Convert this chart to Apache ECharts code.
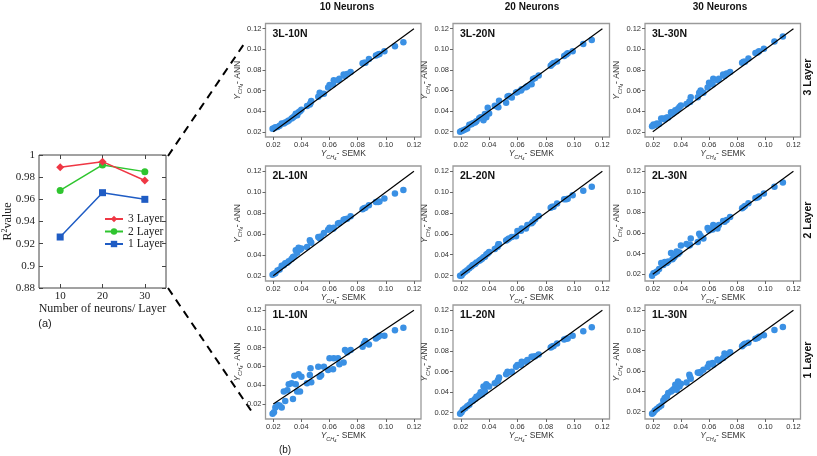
<!DOCTYPE html>
<html><head><meta charset="utf-8">
<script src="https://cdn.jsdelivr.net/npm/echarts@6/dist/echarts.min.js"></script>
<style>html,body{margin:0;padding:0;background:#fff}#c{width:817px;height:456px}</style>
</head><body><div id="c"></div>
<script>
// ---------- data: panel (a) ----------
const neurons = [10, 20, 30];
const r2Layer3 = [0.989, 0.994, 0.977];
const r2Layer2 = [0.968, 0.991, 0.985];
const r2Layer1 = [0.926, 0.966, 0.960];
const layerNames = ['3 Layer', '2 Layer', '1 Layer'];

// ---------- data: panel (b) ----------
const semk = [0.0195,0.0205,0.0215,0.023,0.0245,0.026,0.0275,0.0285,0.030,0.031,0.033,0.034,0.035,0.036,0.037,0.038,0.039,0.040,0.044,0.046,0.0465,0.047,0.052,0.053,0.054,0.056,0.059,0.060,0.0625,0.063,0.066,0.067,0.070,0.071,0.0725,0.075,0.0835,0.0845,0.0855,0.088,0.093,0.0945,0.0955,0.099,0.1065,0.1125];
const ann3L10N = [0.023,0.0235,0.0245,0.0248,0.026,0.028,0.028,0.029,0.030,0.031,0.033,0.034,0.035,0.0375,0.036,0.039,0.040,0.0415,0.045,0.0465,0.048,0.050,0.054,0.058,0.0565,0.057,0.063,0.0655,0.066,0.070,0.070,0.0715,0.0755,0.074,0.076,0.078,0.0865,0.087,0.087,0.0905,0.094,0.095,0.0955,0.098,0.103,0.1068];
const ann3L20N = [0.0197,0.0205,0.021,0.022,0.023,0.0265,0.027,0.028,0.0287,0.030,0.033,0.034,0.0335,0.031,0.037,0.034,0.043,0.0375,0.045,0.044,0.0435,0.050,0.048,0.054,0.0545,0.053,0.058,0.0585,0.060,0.061,0.063,0.064,0.066,0.071,0.072,0.0745,0.084,0.0855,0.0865,0.088,0.0935,0.095,0.096,0.098,0.105,0.109];
const ann3L30N = [0.0255,0.027,0.0265,0.028,0.0275,0.033,0.033,0.032,0.034,0.034,0.039,0.0375,0.039,0.041,0.0405,0.0425,0.044,0.0455,0.047,0.0495,0.049,0.0535,0.0535,0.058,0.060,0.058,0.063,0.0675,0.066,0.0715,0.070,0.0715,0.0755,0.074,0.0765,0.078,0.087,0.088,0.088,0.091,0.0965,0.097,0.098,0.1005,0.1075,0.1125];
const ann2L10N = [0.021,0.022,0.0225,0.025,0.026,0.0295,0.030,0.032,0.0325,0.0338,0.036,0.038,0.0385,0.0444,0.042,0.0467,0.045,0.046,0.0475,0.054,0.0525,0.0515,0.057,0.056,0.0575,0.061,0.064,0.066,0.065,0.066,0.070,0.0705,0.0735,0.074,0.0745,0.077,0.0837,0.0845,0.085,0.0875,0.0905,0.0905,0.091,0.094,0.0988,0.102];
const ann2L20N = [0.0197,0.020,0.022,0.0235,0.025,0.027,0.0285,0.030,0.031,0.0325,0.034,0.035,0.036,0.0374,0.038,0.040,0.041,0.0426,0.0455,0.0475,0.050,0.050,0.0535,0.0545,0.0555,0.0568,0.0577,0.0626,0.063,0.065,0.065,0.0684,0.070,0.0715,0.0739,0.0771,0.085,0.0858,0.086,0.089,0.093,0.0932,0.0935,0.097,0.1013,0.1052];
const ann2L30N = [0.0185,0.021,0.0215,0.0226,0.025,0.0308,0.029,0.0318,0.031,0.0324,0.0406,0.0345,0.0363,0.038,0.042,0.0396,0.041,0.0478,0.0494,0.048,0.0485,0.0546,0.0514,0.0592,0.057,0.0546,0.065,0.0624,0.0635,0.0677,0.0644,0.0677,0.0716,0.071,0.0726,0.0755,0.084,0.085,0.0863,0.089,0.094,0.0945,0.0955,0.0984,0.105,0.109];
const ann1L10N = [0.0094,0.0111,0.0161,0.0189,0.0182,0.0161,0.0331,0.0232,0.0345,0.0409,0.042,0.0253,0.0501,0.0409,0.0331,0.0516,0.0331,0.049,0.042,0.0508,0.058,0.043,0.0597,0.049,0.0505,0.0597,0.0562,0.0686,0.0569,0.0686,0.0686,0.0624,0.0642,0.0775,0.075,0.0775,0.081,0.0845,0.087,0.0834,0.0898,0.0915,0.0927,0.0927,0.0987,0.1012];
const ann1L20N = [0.0187,0.0203,0.0226,0.0242,0.026,0.0275,0.031,0.0314,0.0333,0.0355,0.0372,0.0398,0.0379,0.0453,0.0404,0.0476,0.046,0.0453,0.0486,0.0508,0.052,0.0541,0.0573,0.0599,0.059,0.0599,0.0648,0.0664,0.0664,0.0697,0.0695,0.0713,0.0745,0.0745,0.075,0.0768,0.0836,0.0845,0.0849,0.0875,0.0914,0.092,0.0924,0.095,0.0995,0.1034];
const ann1L30N = [0.0177,0.019,0.021,0.0226,0.0245,0.0259,0.0309,0.0332,0.0349,0.0382,0.0398,0.041,0.0421,0.0464,0.0415,0.0497,0.0447,0.0474,0.0487,0.0563,0.054,0.0523,0.0586,0.0579,0.059,0.0613,0.0639,0.0672,0.0679,0.0662,0.0712,0.070,0.0729,0.0772,0.0765,0.0785,0.0845,0.0859,0.0868,0.0878,0.0918,0.0925,0.0938,0.0952,0.1005,0.1034];
const refLine = [0.02, 0.12];
const scatterTicks = [0.02, 0.04, 0.06, 0.08, 0.10, 0.12];
const panelNames = ['3L-10N','3L-20N','3L-30N','2L-10N','2L-20N','2L-30N','1L-10N','1L-20N','1L-30N'];
const panelData = [ann3L10N, ann3L20N, ann3L30N, ann2L10N, ann2L20N, ann2L30N, ann1L10N, ann1L20N, ann1L30N];
const colTitles = ['10 Neurons', '20 Neurons', '30 Neurons'];
const rowTitles = ['3 Layer', '2 Layer', '1 Layer'];

// ---------- layout ----------
const rowTop = [23.5, 166, 305];
const rowH = [113.5, 115, 114];
const colLeft = [265.5, 453, 645];
const colW = [155.5, 156.5, 155.5];
const colTitleX = [347, 532, 720];
const rowTitleY = [77, 220, 360];

const SERIF = 'Liberation Serif';
const SANS = 'Liberation Sans';
const lineColors = ['#ef3744', '#2fc52f', '#1f5cc4'];
const lineSymbols = ['diamond', 'circle', 'rect'];
const dotColor = '#3a90e4';

function padRange(vals) {
  const lo = Math.min(...vals), hi = Math.max(...vals);
  const m = (hi - lo) * 0.05;
  return [lo - m, hi + m];
}

const grids = [{left: 38, top: 155, width: 128, height: 133, show: true, borderColor: '#444', borderWidth: 1, backgroundColor: '#fff'}];
const xAxes = [
  {gridIndex: 0, type: 'value', min: 5, max: 35,
   axisLine: {show: false}, splitLine: {show: false},
   axisTick: {inside: true, length: 4, customValues: neurons, lineStyle: {color: '#444'}},
   axisLabel: {customValues: neurons, fontFamily: SERIF, fontSize: 11, color: '#222', margin: 3},
   name: 'Number of neurons/ Layer', nameLocation: 'middle', nameGap: 15, nameMoveOverlap: false,
   nameTextStyle: {fontFamily: SERIF, fontSize: 12, color: '#222'}},
  {gridIndex: 0, type: 'value', min: 5, max: 35, position: 'top',
   axisLine: {show: false}, splitLine: {show: false}, axisLabel: {show: false},
   axisTick: {inside: true, length: 4, customValues: neurons, lineStyle: {color: '#444'}}}
];
const yAxes = [
  {gridIndex: 0, type: 'value', min: 0.88, max: 1, interval: 0.02,
   axisLine: {show: false}, splitLine: {show: false},
   axisTick: {show: true, inside: true, length: 4, lineStyle: {color: '#444'}},
   axisLabel: {fontFamily: SERIF, fontSize: 11, color: '#222', margin: 4},
   name: '{b|R}{sup|2}{b|value}', nameLocation: 'middle', nameGap: 24, nameMoveOverlap: false,
   nameTextStyle: {rich: {
     b: {fontFamily: SERIF, fontSize: 12, color: '#222', lineHeight: 14},
     sup: {fontFamily: SERIF, fontSize: 8, color: '#222', lineHeight: 9, verticalAlign: 'top'}}}},
  {gridIndex: 0, type: 'value', min: 0.88, max: 1, interval: 0.02, position: 'right',
   axisLine: {show: false}, splitLine: {show: false}, axisLabel: {show: false},
   axisTick: {show: true, inside: true, length: 4, lineStyle: {color: '#444'}}}
];
const r2Sets = [r2Layer3, r2Layer2, r2Layer1];
const series = r2Sets.map((vals, k) => ({
  name: layerNames[k], type: 'line', xAxisIndex: 0, yAxisIndex: 0,
  data: neurons.map((n, j) => [n, vals[j]]),
  symbol: lineSymbols[k], symbolSize: k === 0 ? 8 : 7,
  lineStyle: {color: lineColors[k], width: 1.5},
  itemStyle: {color: lineColors[k]}, z: 3 - k
}));

const nameRich = {
  i: {fontFamily: SANS, fontStyle: 'italic', fontSize: 8.5, color: '#333', lineHeight: 12},
  s: {fontFamily: SANS, fontStyle: 'italic', fontSize: 5.5, color: '#333', lineHeight: 6, verticalAlign: 'bottom'},
  a: {fontFamily: SANS, fontSize: 8.5, color: '#333', lineHeight: 12}
};
const xRange = padRange(semk.concat(refLine));
const graphics = [];

panelData.forEach((ys, p) => {
  const r = Math.floor(p / 3), c = p % 3;
  const gi = p + 1;
  grids.push({left: colLeft[c], top: rowTop[r], width: colW[c], height: rowH[r],
    show: true, borderColor: '#9a9a9a', borderWidth: 1.3, backgroundColor: '#fff'});
  const yRange = padRange(ys.concat(refLine));
  xAxes.push({gridIndex: gi, type: 'value', min: xRange[0], max: xRange[1],
    axisLine: {show: false}, splitLine: {show: false},
    axisTick: {show: true, length: 3, customValues: scatterTicks, lineStyle: {color: '#666'}},
    axisLabel: {customValues: scatterTicks, fontFamily: SANS, fontSize: 7.5, color: '#333', margin: 4,
      formatter: v => v.toFixed(2)},
    name: '{i|Y}{s|CH₄}{a|- SEMK}', nameLocation: 'middle', nameGap: 11, nameMoveOverlap: false,
    nameTextStyle: {rich: nameRich}});
  yAxes.push({gridIndex: gi, type: 'value', min: yRange[0], max: yRange[1],
    axisLine: {show: false}, splitLine: {show: false},
    axisTick: {show: true, length: 3, customValues: scatterTicks, lineStyle: {color: '#666'}},
    axisLabel: {customValues: scatterTicks, fontFamily: SANS, fontSize: 7.5, color: '#333', margin: 4,
      formatter: v => v.toFixed(2)},
    name: '{i|Y}{s|CH₄}{a|- ANN}', nameLocation: 'middle', nameGap: 22, nameMoveOverlap: false,
    nameTextStyle: {rich: nameRich}});
  series.push({type: 'scatter', xAxisIndex: gi + 1, yAxisIndex: gi + 1,
    data: semk.map((x, j) => [x, ys[j]]), symbolSize: 6.5,
    itemStyle: {color: dotColor, opacity: 1}, z: 2, silent: true});
  series.push({type: 'line', xAxisIndex: gi + 1, yAxisIndex: gi + 1,
    data: [[refLine[0], refLine[0]], [refLine[1], refLine[1]]], symbol: 'none',
    lineStyle: {color: '#000', width: 1.2}, z: 3, silent: true});
  graphics.push({type: 'text', x: colLeft[c] + 7, y: rowTop[r] + 5,
    style: {text: panelNames[p], font: 'bold 10.5px "Liberation Sans"', fill: '#111',
      textAlign: 'left', textVerticalAlign: 'top', align: 'left', verticalAlign: 'top'}});
});

colTitles.forEach((t, c) => graphics.push({type: 'text', x: colTitleX[c], y: 7,
  style: {text: t, font: 'bold 10px "Liberation Sans"', fill: '#111',
    textAlign: 'center', textVerticalAlign: 'middle', align: 'center', verticalAlign: 'middle'}}));
rowTitles.forEach((t, r) => graphics.push({type: 'text', x: 808, y: rowTitleY[r], rotation: Math.PI / 2,
  style: {text: t, font: 'bold 10.5px "Liberation Sans"', fill: '#111',
    textAlign: 'center', textVerticalAlign: 'middle', align: 'center', verticalAlign: 'middle'}}));
graphics.push({type: 'text', x: 45, y: 324,
  style: {text: '(a)', font: '11px "Liberation Sans"', fill: '#222',
    textAlign: 'center', textVerticalAlign: 'middle', align: 'center', verticalAlign: 'middle'}});
graphics.push({type: 'text', x: 285, y: 450,
  style: {text: '(b)', font: '10px "Liberation Sans"', fill: '#222',
    textAlign: 'center', textVerticalAlign: 'middle', align: 'center', verticalAlign: 'middle'}});
graphics.push({type: 'line', shape: {x1: 168, y1: 156, x2: 244, y2: 44},
  style: {stroke: '#000', lineWidth: 2, lineDash: [8, 6]}});
graphics.push({type: 'line', shape: {x1: 168, y1: 288, x2: 252, y2: 412},
  style: {stroke: '#000', lineWidth: 2, lineDash: [8, 6]}});

const chart = echarts.init(document.getElementById('c'), null, {renderer: 'canvas'});
chart.setOption({
  animation: false,
  backgroundColor: '#fff',
  grid: grids, xAxis: xAxes, yAxis: yAxes, series: series,
  legend: {data: layerNames, orient: 'vertical', left: 104, top: 213,
    itemWidth: 18, itemHeight: 8, itemGap: 0.5, padding: 0,
    textStyle: {fontFamily: SERIF, fontSize: 11.5, color: '#222', lineHeight: 11}},
  graphic: graphics
});
</script></body></html>
